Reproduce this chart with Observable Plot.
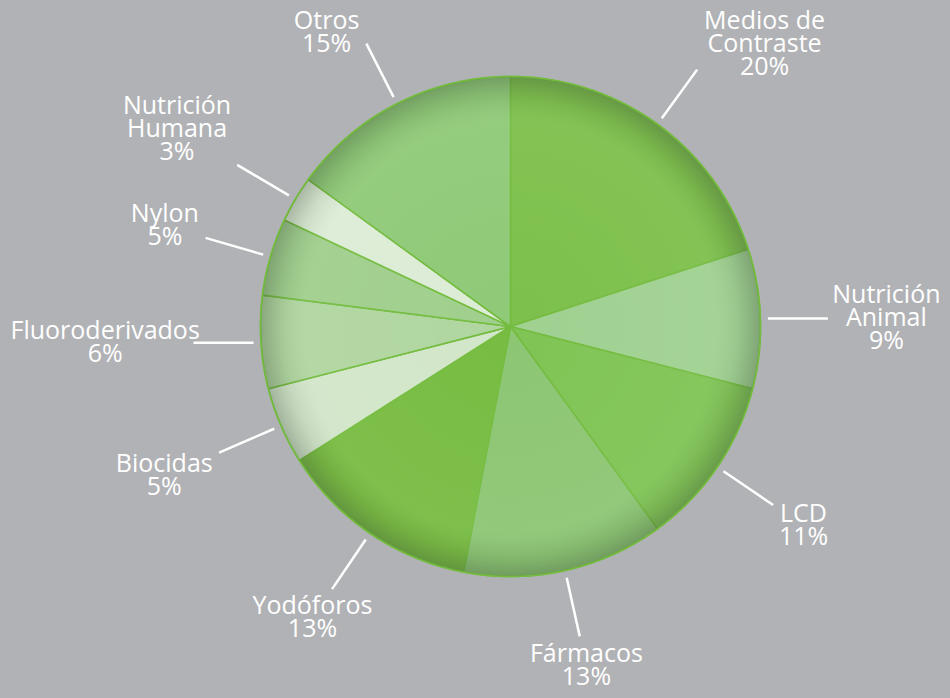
<!DOCTYPE html>
<html>
<head>
<meta charset="utf-8">
<script src="https://cdn.jsdelivr.net/npm/d3@7"></script>
<script src="https://cdn.jsdelivr.net/npm/@observablehq/plot@0.6"></script>
<style>
  html, body { margin: 0; padding: 0; background: #b1b2b5; }
  #chart { width: 950px; height: 698px; }
</style>
</head>
<body>
<div id="chart"></div>
<script>
// ---- data (clockwise from 12 o'clock) ----
const categories = ["Medios de\nContraste", "Nutrición\nAnimal", "LCD", "Fármacos", "Yodóforos",
  "Biocidas", "Fluoroderivados", "Nylon", "Nutrición\nHumana", "Otros"];
const shares = [20, 9, 11, 13, 13, 5, 6, 5, 3, 15];
const sliceColors = ["#7dc04c", "#a0d191", "#80c455", "#8cc673", "#78bc42",
  "#d2e6c9", "#b0d6a0", "#a0cf8d", "#dcecd5", "#8fca77"];

// ---- layout ----
const W = 950, H = 698;
const R = 250;              // pie radius in pixels
const cx = 510, cy = 326;   // pie centre in pixels
const fontSize = 25;
const lineHeight = 0.92;    // em
const fontFamily = "'Open Sans', 'Noto Sans', sans-serif";

const total = d3.sum(shares);
const slices = [];
let acc = 0;
categories.forEach((name, i) => {
  const a0 = acc / total * 2 * Math.PI;
  acc += shares[i];
  const a1 = acc / total * 2 * Math.PI;
  slices.push({name, value: shares[i], a0, a1, mid: (a0 + a1) / 2});
});

// polygon outline of every slice (geometry sampled along the arc)
const outline = [];
for (const s of slices) {
  outline.push({name: s.name, x: 0, y: 0});
  const n = Math.max(2, Math.ceil((s.a1 - s.a0) / (Math.PI / 360)));
  for (let k = 0; k <= n; k++) {
    const a = s.a0 + (s.a1 - s.a0) * k / n;
    outline.push({name: s.name, x: Math.sin(a), y: Math.cos(a)});
  }
  outline.push({name: s.name, x: 0, y: 0});
}

// text measuring for label placement
const ctx = document.createElement("canvas").getContext("2d");
ctx.font = `${fontSize}px ${fontFamily}`;

const leaders = [];
const labels = [];
const r0 = 1.03, len = 60 / R, gap = 7, edge = 10;
for (const s of slices) {
  const sx = Math.sin(s.mid), sy = Math.cos(s.mid); // data units, y up
  const x1 = r0 * sx, y1 = r0 * sy;
  let dx = sx, dy = sy;
  if (Math.abs(sx) > 0.99) { dx = Math.sign(sx); dy = 0; }
  const x2 = x1 + dx * len, y2 = y1 + dy * len;
  leaders.push({name: s.name, x: x1, y: y1, x2, y2});
  const text = `${s.name}\n${s.value}%`;
  const lines = text.split("\n");
  const hw = d3.max(lines, l => ctx.measureText(l).width) / 2;      // px
  const hh = lines.length * fontSize * lineHeight / 2;               // px
  // end of the leader in pixels; screen direction (y down)
  const ex = cx + x2 * R, ey = cy - y2 * R;
  const ux = dx, uy = -dy;
  const t = Math.min(Math.abs(ux) > 1e-6 ? hw / Math.abs(ux) : Infinity,
                     Math.abs(uy) > 1e-6 ? hh / Math.abs(uy) : Infinity) + gap;
  let px = ex + ux * t, py = ey + uy * t;
  // keep the block inside the picture; if pushed back, clear the leader sideways
  const minY = hh + edge, maxY = H - hh - 2;
  if (py < minY || py > maxY) {
    py = Math.min(Math.max(py, minY), maxY);
    px = ex + Math.sign(ux) * (hw + gap);
  }
  px = Math.min(Math.max(px, hw + edge), W - hw - edge);
  labels.push({text, x: (px - cx) / R, y: (cy - py) / R});
}

const xDomain = [-cx / R, (W - cx) / R];
const yDomain = [-(H - cy) / R, cy / R];

const plot = Plot.plot({
  width: W, height: H,
  margin: 0,
  style: {background: "#b1b2b5", fontFamily},
  x: {domain: xDomain, axis: null},
  y: {domain: yDomain, axis: null},
  color: {domain: categories, range: sliceColors},
  marks: [
    Plot.line(outline, {x: "x", y: "y", z: "name", fill: "name",
      stroke: "#74bc3f", strokeWidth: 1.6, strokeLinejoin: "round", curve: "linear"}),
    Plot.dot([{x: 0, y: 0}], {x: "x", y: "y", r: R, fill: "url(#pieShade)", stroke: "none"}),
    Plot.dot([{x: 0, y: 0}], {x: "x", y: "y", r: R, fill: "none", stroke: "#74bc3f", strokeWidth: 1.6}),
    Plot.link(leaders, {x1: "x", y1: "y", x2: "x2", y2: "y2", stroke: "white", strokeWidth: 2.5}),
    Plot.text(labels, {x: "x", y: "y", text: "text", fill: "white", fontSize,
      lineHeight, textAnchor: "middle", lineAnchor: "middle"})
  ]
});

const defs = d3.select(plot).insert("defs", ":first-child");
const g = defs.append("radialGradient").attr("id", "pieShade")
  .attr("cx", "50%").attr("cy", "50%").attr("r", "50%");
[[0, "rgba(255,255,255,0)"], [0.6, "rgba(255,255,255,0.03)"], [0.82, "rgba(255,255,255,0.05)"],
 [0.92, "rgba(60,70,60,0.10)"], [1, "rgba(50,60,50,0.30)"]].forEach(([o, c]) => {
  g.append("stop").attr("offset", o).attr("stop-color", c);
});

document.getElementById("chart").appendChild(plot);
</script>
</body>
</html>
